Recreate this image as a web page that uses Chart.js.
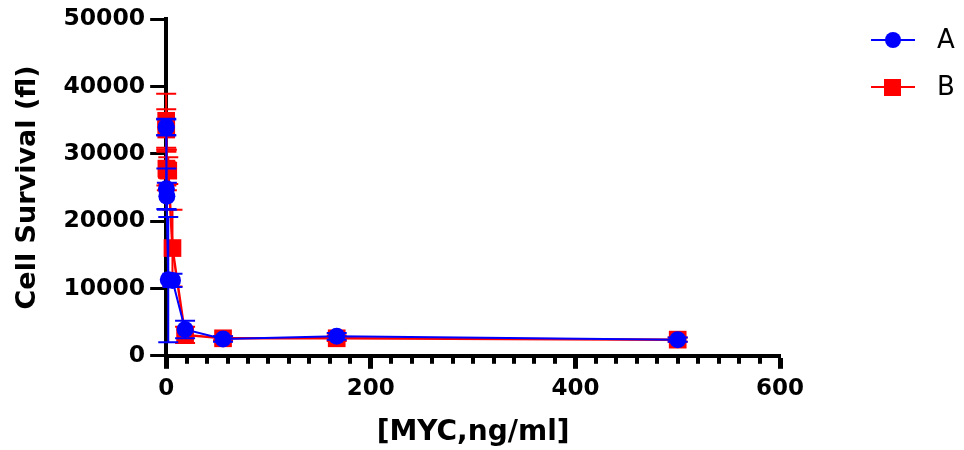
<!DOCTYPE html>
<html>
<head>
<meta charset="utf-8">
<script src="https://cdn.jsdelivr.net/npm/chart.js@4"></script>
<style>
  html, body { margin: 0; padding: 0; background: #fff; }
  #wrap { width: 964px; height: 450px; }
</style>
</head>
<body>
<div id="wrap"><canvas id="survivalChart" width="964" height="450"></canvas></div>
<script>
// concentrations (ng/ml) and read-off values
const concentrations = [0.025, 0.076, 0.229, 0.686, 2.06, 6.17, 18.5, 55.6, 166.7, 500];
const seriesA = [34000, 33900, 24800, 23700, 11300, 11200, 3900, 2500, 2900, 2400];
const errorA = [1200, 1200, 3000, 2000, 9300, 1000, 1300, 400, 500, 300];
const seriesB = [34900, 33600, 27800, 27600, 27500, 16000, 3100, 2600, 2600, 2400];
const errorB = [4000, 3000, 2500, 3000, 2000, 5700, 1200, 300, 400, 300];
const seriesNames = ["A", "B"];
const xTicks = [0, 200, 400, 600];
const yTicks = [0, 10000, 20000, 30000, 40000, 50000];

const FONT = "'DejaVu Sans', 'Liberation Sans', Arial, sans-serif";
const colorA = "#0000ff";
const colorB = "#ff0000";

function toPoints(ys) {
  return concentrations.map((x, i) => ({ x: x, y: ys[i] }));
}

// error bars drawn right after their own dataset, like Prism does
const errorBars = {
  id: "errorBars",
  afterDatasetDraw(chart, args) {
    const errs = args.index === 0 ? errorA : errorB;
    const color = chart.data.datasets[args.index].borderColor;
    const xs = chart.scales.x, ys = chart.scales.y;
    const ctx = chart.ctx;
    ctx.save();
    ctx.strokeStyle = color;
    ctx.lineWidth = 2;
    args.meta.data.forEach((pt, i) => {
      const v = chart.data.datasets[args.index].data[i].y;
      const px = xs.getPixelForValue(concentrations[i]);
      const top = ys.getPixelForValue(v + errs[i]);
      const bot = ys.getPixelForValue(v - errs[i]);
      ctx.beginPath();
      ctx.moveTo(px, top); ctx.lineTo(px, bot);
      ctx.moveTo(px - 10, top); ctx.lineTo(px + 10, top);
      ctx.moveTo(px - 10, bot); ctx.lineTo(px + 10, bot);
      ctx.stroke();
    });
    ctx.restore();
  }
};

// minor ticks every 20 on the x axis
const minorTicks = {
  id: "minorTicks",
  afterDraw(chart) {
    const xs = chart.scales.x;
    const ctx = chart.ctx;
    const base = chart.chartArea.bottom;
    ctx.save();
    ctx.strokeStyle = "#000";
    ctx.lineWidth = 4;
    for (let v = 20; v < 600; v += 20) {
      if (v % 200 === 0) continue;
      const px = Math.round(xs.getPixelForValue(v));
      ctx.beginPath();
      ctx.moveTo(px, base);
      ctx.lineTo(px, base + 8);
      ctx.stroke();
    }
    ctx.restore();
  }
};

// legend on the right: line through marker, then name
const sideLegend = {
  id: "sideLegend",
  afterDraw(chart) {
    const ctx = chart.ctx;
    ctx.save();
    chart.data.datasets.forEach((ds, i) => {
      const y = 40 + i * 47;
      ctx.strokeStyle = ds.borderColor;
      ctx.fillStyle = ds.borderColor;
      ctx.lineWidth = 2;
      ctx.beginPath();
      ctx.moveTo(871, y); ctx.lineTo(915, y);
      ctx.stroke();
      if (ds.pointStyle === "rect") {
        ctx.fillRect(884, y - 8, 17, 17);
      } else {
        ctx.beginPath();
        ctx.arc(893, y, 8, 0, Math.PI * 2);
        ctx.fill();
      }
      ctx.fillStyle = "#000";
      ctx.font = "26px " + FONT;
      ctx.textBaseline = "middle";
      ctx.fillText(ds.label, 937, y + 1);
    });
    ctx.restore();
  }
};

new Chart(document.getElementById("survivalChart"), {
  type: "line",
  data: {
    datasets: [
      {
        label: seriesNames[0],
        data: toPoints(seriesA),
        borderColor: colorA,
        backgroundColor: colorA,
        borderWidth: 2,
        pointStyle: "circle",
        pointRadius: 8.5,
        pointBorderWidth: 0,
        tension: 0,
        clip: false
      },
      {
        label: seriesNames[1],
        data: toPoints(seriesB),
        borderColor: colorB,
        backgroundColor: colorB,
        borderWidth: 2.5,
        pointStyle: "rect",
        pointRadius: 12.5,
        pointBorderWidth: 0,
        tension: 0,
        clip: false
      }
    ]
  },
  options: {
    responsive: false,
    animation: false,
    layout: { padding: { top: 0, right: 184, left: 12, bottom: 0 } },
    plugins: {
      legend: { display: false },
      tooltip: { enabled: false }
    },
    scales: {
      x: {
        type: "linear",
        min: 0,
        max: 600,
        afterBuildTicks(scale) {
          scale.ticks = xTicks.map(v => ({ value: v }));
        },
        ticks: {
          color: "#000",
          font: { family: FONT, size: 23, weight: "bold" },
          padding: 6,
          maxRotation: 0,
          callback: v => String(v)
        },
        grid: { drawOnChartArea: false, tickLength: 13, tickWidth: 5, tickColor: "#000" },
        border: { color: "#000", width: 4 },
        title: {
          display: true,
          text: "[MYC,ng/ml]",
          color: "#000",
          font: { family: FONT, size: 28, weight: "bold" },
          padding: { top: 8, bottom: 0 }
        }
      },
      y: {
        min: 0,
        max: 50000,
        afterBuildTicks(scale) {
          scale.ticks = yTicks.map(v => ({ value: v }));
        },
        ticks: {
          color: "#000",
          font: { family: FONT, size: 23.5, weight: "bold" },
          padding: 5,
          callback: v => String(v)
        },
        grid: { drawOnChartArea: false, tickLength: 16, tickWidth: 3, tickColor: "#000" },
        border: { color: "#000", width: 4 },
        title: {
          display: true,
          text: "Cell Survival (fl)",
          color: "#000",
          font: { family: FONT, size: 27, weight: "bold" },
          padding: { top: 0, bottom: 14 }
        }
      }
    }
  },
  plugins: [errorBars, minorTicks, sideLegend]
});
</script>
</body>
</html>
